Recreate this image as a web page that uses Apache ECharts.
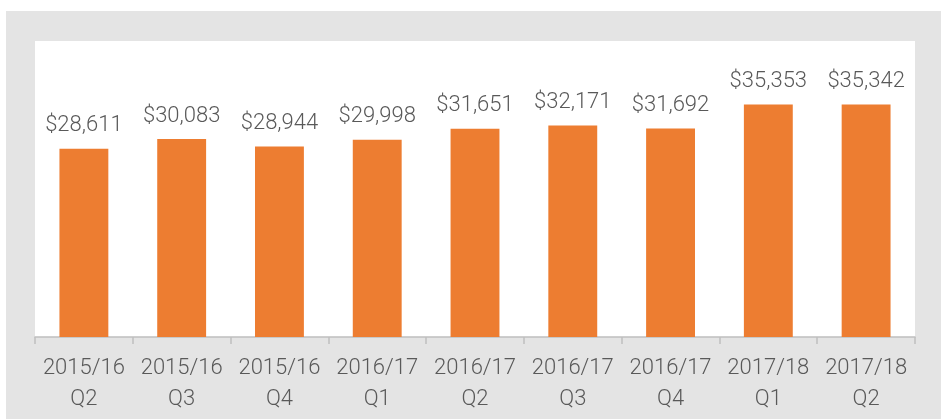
<!DOCTYPE html>
<html>
<head>
<meta charset="utf-8">
<script src="https://cdn.jsdelivr.net/npm/echarts@6/dist/echarts.min.js"></script>
<style>
  html, body { margin: 0; padding: 0; background: #ffffff; }
  #chart { width: 941px; height: 419px; }
</style>
</head>
<body>
<div id="chart"></div>
<script>
// quarters on the x axis
var categories = ['2015/16\nQ2', '2015/16\nQ3', '2015/16\nQ4', '2016/17\nQ1', '2016/17\nQ2',
                  '2016/17\nQ3', '2016/17\nQ4', '2017/18\nQ1', '2017/18\nQ2'];
// values shown above each bar
var values = [28611, 30083, 28944, 29998, 31651, 32171, 31692, 35353, 35342];

var chartDom = document.getElementById('chart');
var myChart = echarts.init(chartDom);

function money(v) {
  return '$' + v.toString().replace(/\B(?=(\d{3})+(?!\d))/g, ',');
}

var option = {
  backgroundColor: '#ffffff',
  animation: false,
  graphic: [
    // grey panel
    { type: 'rect', z: -10, shape: { x: 6, y: 11, width: 935, height: 408 }, style: { fill: '#e4e4e4' } },
    // white plot area
    { type: 'rect', z: -9, shape: { x: 35, y: 41, width: 880, height: 296 }, style: { fill: '#ffffff' } }
  ],
  grid: { left: 35, right: 26, top: 41, bottom: 82, containLabel: false },
  xAxis: {
    type: 'category',
    data: categories,
    axisLine: { lineStyle: { color: '#bfbfbf', width: 1.5 } },
    axisTick: { show: true, length: 7, lineStyle: { color: '#bfbfbf', width: 1.5 } },
    axisLabel: {
      color: '#595959',
      fontFamily: 'Roboto',
      fontWeight: 300,
      fontSize: 22,
      lineHeight: 31,
      margin: 16,
      interval: 0
    }
  },
  yAxis: {
    type: 'value',
    min: 0,
    max: 45000,
    show: false,
    splitLine: { show: false }
  },
  series: [
    {
      type: 'bar',
      data: values,
      barCategoryGap: '50%',
      itemStyle: { color: '#ed7d31' },
      label: {
        show: true,
        position: 'top',
        distance: 12,
        formatter: function (p) { return money(p.value); },
        color: '#595959',
        fontFamily: 'Roboto',
        fontWeight: 300,
        fontSize: 22
      }
    }
  ]
};

option && myChart.setOption(option);
</script>
</body>
</html>
